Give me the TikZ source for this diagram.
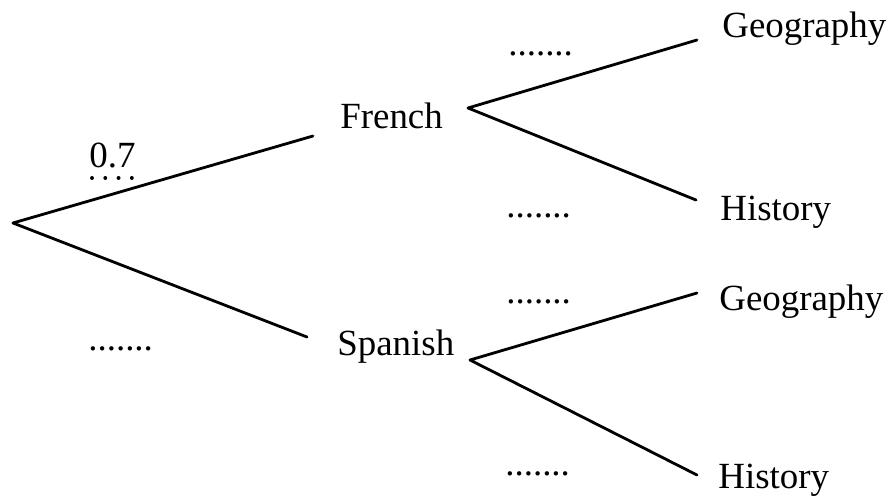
\documentclass[tikz,border=0pt]{standalone}
\usepackage{fontspec}
\setmainfont{Liberation Serif}

\tikzset{
    lbl/.style={inner sep=0pt, anchor=base west, font=\fontsize{21}{25}\selectfont},
    blank/.style={lbl},
    branch/.style={line width=1.6pt, line cap=round, line join=round}
}

\begin{document}
\begin{tikzpicture}[x=0.02cm, y=-0.02cm]
        \useasboundingbox (0, 0) rectangle (891, 497);
        \coordinate (root) at (13, 223);
        \coordinate (frIn) at (313, 136);
        \coordinate (frOut) at (468, 108);
        \coordinate (spIn) at (307, 337);
        \coordinate (spOut) at (470, 360);
        \coordinate (geoA) at (697, 40);
        \coordinate (hisA) at (696, 200);
        \coordinate (geoB) at (697, 293);
        \coordinate (hisB) at (697, 475);
        \node[lbl] (french) at (340, 128) {French};
        \node[lbl] (spanish) at (337, 355) {Spanish};
        \node[lbl] (geoAtxt) at (722, 37) {Geography};
        \node[lbl] (hisAtxt) at (720, 220) {History};
        \node[lbl] (geoBtxt) at (719, 310) {Geography};
        \node[lbl] (hisBtxt) at (718, 488) {History};
        \node[lbl] (pFrench) at (89, 167) {0.7};
        \node[blank] (pGeoA) at (508, 55) {.......};
        \node[blank] (pHisA) at (506, 217) {.......};
        \node[blank] (pGeoB) at (506, 303) {.......};
        \node[blank] (pHisB) at (505, 475) {.......};
        \node[blank] (pSpanish) at (88, 350) {.......};
        \draw[line width=2.2pt, dash pattern=on 0.01pt off 7.55pt, line cap=round] ([xshift=1.7pt, yshift=-6.2pt]pFrench.base west) -- ([xshift=-0.5pt, yshift=-6.2pt]pFrench.base east);
        \draw[branch] (root) -- (frIn);
        \draw[branch] (root) -- (spIn);
        \draw[branch] (geoA) -- (frOut) -- (hisA);
        \draw[branch] (geoB) -- (spOut) -- (hisB);
    \end{tikzpicture}
\end{document}
